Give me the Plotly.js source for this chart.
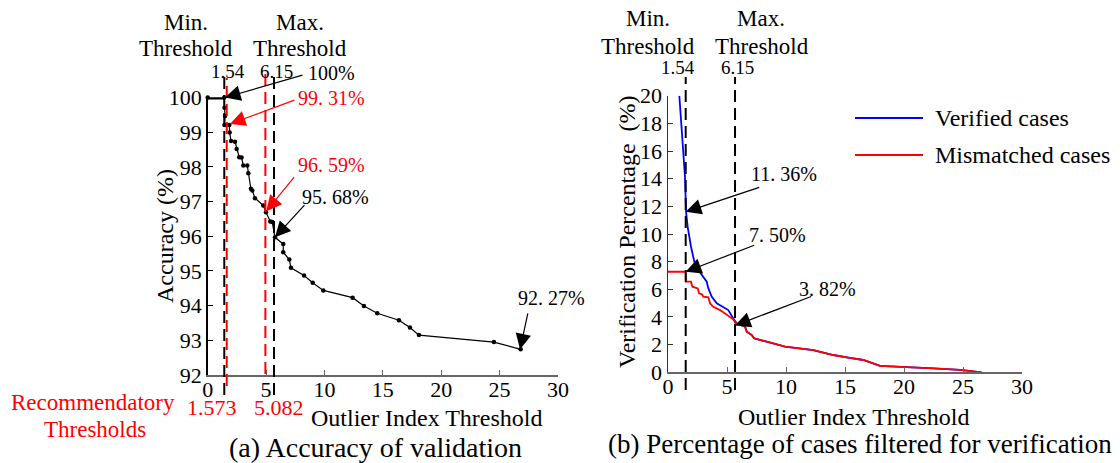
<!DOCTYPE html>
<html><head><meta charset="utf-8">
<script src="https://cdn.plot.ly/plotly-3.0.1.min.js"></script>
<style>html,body{margin:0;padding:0;background:#fff}#chart{width:1120px;height:463px}</style>
</head><body><div id="chart"></div>
<script>
// ---------- data ----------
const accX = [0,1.42,1.44,1.48,1.44,1.85,1.88,2.0,2.34,2.48,2.7,2.9,3.05,3.39,3.48,3.7,3.82,4.05,4.76,4.99,5.36,5.53,5.76,6.47,6.47,6.99,7.13,8.25,8.99,9.9,12.41,13.38,14.52,16.38,17.32,18.09,24.51,26.8];
const accY = [100,100,99.71,99.47,99.21,99.21,98.99,98.75,98.73,98.52,98.28,98.27,98.04,98.04,97.82,97.37,97.32,97.10,96.89,96.69,96.43,96.41,95.97,95.78,95.54,95.33,95.09,94.87,94.66,94.44,94.23,93.99,93.78,93.58,93.37,93.15,92.95,92.74];
const accFlatX = [0,1.42];   const accFlatY = [100,100];
const accStepX = [1.44,1.85]; const accStepY = [99.21,99.21];

const verX = [0.96,1.21,1.44,1.53,1.67,1.95,2.23,2.57,2.99,3.28,3.42,3.70,4.13,4.69,5.11,5.53,5.76,
              5.82,6.53,6.67,7.09,7.29,8.36,9.92,12.31,14.01,15.14,16.55,17.97,19.66,22.48,24.75,26.58];
const verY = [20,16.8,14.14,11.6,10.5,9.08,8.0,7.4,6.9,6.55,6.07,5.47,4.99,4.74,4.5,3.9,3.54,
              3.54,3.3,2.94,2.7,2.46,2.21,1.85,1.61,1.25,1.08,0.89,0.46,0.41,0.29,0.17,0];
const misX = [0,1.50,1.52,1.95,2.06,2.52,2.63,2.88,2.99,3.42,3.56,3.84,4.41,4.83,5.25,5.53,5.76,
              5.82,6.53,6.67,7.09,7.29,8.36,9.92,12.31,14.01,15.14,16.55,17.97,19.66,22.48,24.75,26.58];
const misY = [7.27,7.27,6.55,6.55,6.19,6.07,5.71,5.64,5.47,5.42,4.99,4.74,4.5,4.26,3.97,3.83,3.49,
              3.54,3.3,2.94,2.7,2.46,2.21,1.85,1.61,1.25,1.08,0.89,0.46,0.41,0.29,0.17,0];
const seriesNames = ['Verified cases','Mismatched cases'];

const leftThr = [1.42, 5.68];     // black dashed: Min./Max. threshold
const rightThr = [1.50, 5.68];
const thrLabels = ['1.54','6.15'];
const recThr = [1.63, 4.94];      // red dashed: recommendatory thresholds
const recLabels = ['1.573','5.082'];

// arrow tips [x, y, text]
const accNotes = [[1.48,100,'100%'],[1.9,99.24,'99. 31%'],[5.02,96.72,'96. 59%'],[5.76,95.97,'95. 68%'],[26.75,92.74,'92. 27%']];
const pctNotes = [[1.50,11.6,'11. 36%'],[1.50,7.27,'7. 50%'],[5.68,3.38,'3. 82%']];

// ---------- layout helpers ----------
const W = 1120, H = 463;
const px = v => v / W, py = v => 1 - v / H;
const FONT = '"Liberation Serif"';

const traces = [
  {x: accFlatX, y: accFlatY, xaxis:'x', yaxis:'y', mode:'lines', line:{color:'#000', width:4}, showlegend:false, hoverinfo:'skip', cliponaxis:false},
  {x: accStepX, y: accStepY, xaxis:'x', yaxis:'y', mode:'lines', line:{color:'#000', width:3}, showlegend:false, hoverinfo:'skip'},
  {x: accX, y: accY, xaxis:'x', yaxis:'y', mode:'lines+markers', line:{color:'#000', width:1.2}, marker:{color:'#000', size:4.5}, showlegend:false, cliponaxis:false},
  {x: verX, y: verY, xaxis:'x2', yaxis:'y2', mode:'lines', name: seriesNames[0], line:{color:'#0000ff', width:1.8}, showlegend:false},
  {x: misX, y: misY, xaxis:'x2', yaxis:'y2', mode:'lines', name: seriesNames[1], line:{color:'#ff0000', width:1.8}, showlegend:false}
];

const axBase = {showgrid:false, zeroline:false, showline:true, ticks:'inside', ticklen:5,
  tickfont:{family:FONT, size:22, color:'#000'}, fixedrange:true};

const shapes = [];
const dash = '12px,6px';
leftThr.forEach(v => shapes.push({type:'line', xref:'x', yref:'paper', x0:v, x1:v, y0:py(395), y1:py(76), line:{color:'#000', width:2, dash:dash}}));
shapes.push({type:'line', xref:'x', yref:'paper', x0:recThr[0], x1:recThr[0], y0:py(386), y1:py(78), line:{color:'#ff0000', width:2, dash:dash}});
shapes.push({type:'line', xref:'x', yref:'paper', x0:recThr[1], x1:recThr[1], y0:py(374), y1:py(70), line:{color:'#ff0000', width:2, dash:dash}});
rightThr.forEach(v => shapes.push({type:'line', xref:'x2', yref:'paper', x0:v, x1:v, y0:py(390), y1:py(77), line:{color:'#000', width:2, dash:dash}}));
shapes.push({type:'line', xref:'paper', yref:'paper', x0:px(855), x1:px(923), y0:py(118), y1:py(118), line:{color:'#0000ff', width:2}});
shapes.push({type:'line', xref:'paper', yref:'paper', x0:px(855), x1:px(923), y0:py(155), y1:py(155), line:{color:'#ff0000', width:2}});

const ann = [];
function txt(x, y, text, size, color, opts) {
  ann.push(Object.assign({xref:'paper', yref:'paper', x:px(x), y:py(y), text:text, showarrow:false,
    xanchor:'center', yanchor:'middle', font:{family:FONT, size:size, color:color||'#000'}}, opts||{}));
}
function arrow(xr, yr, x, y, ax, ay, color) {
  ann.push({xref:xr, yref:yr, x:x, y:y, text:' ', showarrow:true, ax:ax, ay:ay, arrowhead:2, arrowsize:2.6, arrowwidth:1.2,
    arrowcolor:color, standoff:0, startstandoff:0, font:{size:1}, borderpad:0});
}

txt(186, 22, 'Min.', 23); txt(186, 49, 'Threshold', 23);
txt(300, 22, 'Max.', 23); txt(300, 49, 'Threshold', 23);
txt(228, 71, thrLabels[0], 19); txt(276, 71, thrLabels[1], 19);
const accTextPos = [[331,73],[331,98],[331,165],[335,197],[551,298]];
const accColors = ['#000','#ff0000','#ff0000','#000','#000'];
const accTails = [[303,75],[295,100],[295,177],[305,205],[528,313]];
const accTips = [[225,97.6],[230,124],[266.7,211.7],[275,237.7],[520,350]];
accNotes.forEach((n,i) => {
  txt(accTextPos[i][0], accTextPos[i][1], n[2], 20, accColors[i]);
  arrow('x','y', n[0], n[1], accTails[i][0]-accTips[i][0], accTails[i][1]-accTips[i][1], accColors[i]);
});
txt(212, 407, recLabels[0], 22, '#ff0000'); txt(279, 407, recLabels[1], 22, '#ff0000');
txt(93, 402, 'Recommendatory', 23, '#ff0000'); txt(95, 429, 'Thresholds', 23, '#ff0000');
txt(427, 418, 'Outlier Index Threshold', 24);
txt(165, 236, 'Accuracy (%)', 24, '#000', {textangle:-90});
txt(376, 447, '(a) Accuracy of validation', 28);

txt(648, 18, 'Min.', 23); txt(648, 46, 'Threshold', 23);
txt(761, 18, 'Max.', 23); txt(762, 46, 'Threshold', 23);
txt(678, 68, thrLabels[0], 19); txt(737, 68, thrLabels[1], 19);
const pctTextPos = [[784,174],[777,235],[827,289]];
const pctTails = [[760,187],[755,245],[811.7,296.7]];
const pctTips = [[686,211.7],[686,271.7],[735,326]];
pctNotes.forEach((n,i) => {
  txt(pctTextPos[i][0], pctTextPos[i][1], n[2], 20);
  arrow('x2','y2', n[0], n[1], pctTails[i][0]-pctTips[i][0], pctTails[i][1]-pctTips[i][1], '#000');
});
txt(854, 417, 'Outlier Index Threshold', 24);
txt(627, 232, 'Verification Percentage  (%)', 24, '#000', {textangle:-90});
txt(860, 444, '(b) Percentage of cases filtered for verification', 27);
txt(933, 118, seriesNames[0], 24, '#000', {xanchor:'left'});
txt(933, 155, seriesNames[1], 24, '#000', {xanchor:'left'});

const layout = {
  width: W, height: H, margin:{l:0, r:0, t:0, b:0}, paper_bgcolor:'#fff', plot_bgcolor:'rgba(0,0,0,0)',
  showlegend:false, font:{family:FONT},
  xaxis: Object.assign({}, axBase, {domain:[px(207.7), px(558)], range:[0,30], tickvals:[0,5,10,15,20,25,30], anchor:'y',
    linecolor:'#666', linewidth:2, tickcolor:'#666', ticklabelstandoff:-6}),
  yaxis: Object.assign({}, axBase, {domain:[py(375), py(97.6)], range:[92,100], dtick:1, anchor:'x',
    linecolor:'#000', linewidth:1.5, tickcolor:'#000'}),
  xaxis2: Object.assign({}, axBase, {domain:[px(668), px(1022)], range:[0,30], tickvals:[0,5,10,15,20,25,30], anchor:'y2',
    linecolor:'#666', linewidth:2, tickcolor:'#666', ticklabelstandoff:-7}),
  yaxis2: Object.assign({}, axBase, {domain:[py(372.3), py(95.7)], range:[0,20], dtick:2, anchor:'x2',
    linecolor:'#333', linewidth:1.5, tickcolor:'#333'}),
  shapes: shapes,
  annotations: ann
};
Plotly.newPlot('chart', traces, layout, {staticPlot:true, displayModeBar:false});
</script></body></html>
